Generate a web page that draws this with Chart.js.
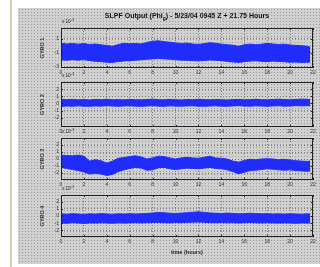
<!DOCTYPE html>
<html><head><meta charset="utf-8">
<script src="https://cdn.jsdelivr.net/npm/chart.js@4/dist/chart.umd.min.js"></script>
<style>
html,body{margin:0;padding:0;background:#fff;width:320px;height:267px;overflow:hidden;position:relative}
#stripe{position:absolute;left:10px;top:0;width:1.5px;height:267px;background:#d9d0b4}
#panel{position:absolute;left:18px;top:8px;width:302px;height:256px;background-color:#d0d0d0;
 background-image:radial-gradient(circle,#9c9c9c 0.6px,transparent 0.8px);
 background-size:3px 3px}
canvas{position:absolute;left:20px}
</style></head><body>
<div id="stripe"></div><div id="panel"></div>
<canvas id="c1" width="298" height="70" style="top:8px"></canvas>
<canvas id="c2" width="298" height="65" style="top:72px"></canvas>
<canvas id="c3" width="298" height="62" style="top:128px"></canvas>
<canvas id="c4" width="298" height="74" style="top:185px"></canvas>
<script>
// ---- data (envelope of the noisy signal) ----
const hours = [0,0.5,1,1.5,2,2.5,3,3.5,4,4.5,5,5.5,6,6.5,7,7.5,8,8.5,9,9.5,10,10.5,11,11.5,12,12.5,13,13.5,14,14.5,15,15.5,16,16.5,17,17.5,18,18.5,19,19.5,20,20.5,21,21.5,21.75];
const gyro1Upper = [0.35,0.22,0.3,0.2,0.28,0.15,0.22,0.1,0.0,-0.1,0.15,0.32,0.25,0.3,0.22,0.45,0.6,0.68,0.55,0.48,0.38,0.3,0.35,0.22,0.15,0.28,0.4,0.32,0.2,0.12,0.05,-0.1,0.1,0.2,0.12,0.18,0.32,0.22,0.15,0.2,0.08,0.02,-0.02,-0.1,-0.2];
const gyro1Lower = [-2.05,-2.1,-2.02,-2.08,-2.0,-2.15,-2.25,-2.3,-2.38,-2.4,-2.28,-2.2,-2.15,-2.1,-2.02,-1.95,-1.9,-1.85,-1.9,-1.95,-2.02,-2.08,-2.1,-2.15,-2.18,-2.12,-2.05,-2.1,-2.15,-2.25,-2.35,-2.4,-2.3,-2.22,-2.18,-2.25,-2.3,-2.22,-2.26,-2.32,-2.38,-2.35,-2.4,-2.37,-2.35];
const gyro2Upper = [0.6,0.52,0.56,0.5,0.54,0.48,0.55,0.51,0.57,0.5,0.53,0.49,0.56,0.52,0.5,0.55,0.6,0.53,0.5,0.56,0.52,0.48,0.54,0.51,0.57,0.53,0.5,0.55,0.52,0.48,0.54,0.56,0.51,0.53,0.58,0.52,0.5,0.55,0.6,0.54,0.51,0.56,0.6,0.58,0.55];
const gyro2Lower = [-0.43,-0.36,-0.4,-0.34,-0.38,-0.41,-0.35,-0.38,-0.32,-0.37,-0.4,-0.35,-0.33,-0.38,-0.41,-0.36,-0.32,-0.38,-0.4,-0.34,-0.37,-0.39,-0.35,-0.33,-0.38,-0.41,-0.36,-0.34,-0.38,-0.4,-0.35,-0.32,-0.37,-0.39,-0.34,-0.36,-0.4,-0.35,-0.33,-0.38,-0.36,-0.31,-0.34,-0.32,-0.33];
const gyro3Upper = [0.55,0.5,0.45,0.55,0.4,-0.3,-0.1,-0.25,-0.6,-0.3,0.1,0.2,0.35,0.45,0.3,0.0,0.15,0.4,0.35,0.15,0.0,0.15,0.25,0.15,0.1,0.25,0.4,0.15,0.1,0.0,-0.3,-0.45,-0.2,-0.05,-0.1,0.0,0.05,0.0,-0.1,-0.05,-0.15,-0.25,-0.3,-0.35,-0.3];
const gyro3Lower = [-1.2,-1.35,-1.5,-1.65,-1.85,-2.15,-2.05,-2.15,-2.35,-2.2,-1.8,-1.55,-1.35,-1.2,-1.3,-1.6,-1.55,-1.25,-1.2,-1.4,-1.5,-1.4,-1.3,-1.35,-1.4,-1.3,-1.2,-1.35,-1.4,-1.55,-1.8,-2.1,-1.9,-1.65,-1.6,-1.5,-1.4,-1.45,-1.55,-1.6,-1.55,-1.65,-1.7,-1.75,-1.7];
const gyro4Upper = [0.3,0.25,0.32,0.28,0.22,0.3,0.26,0.33,0.28,0.24,0.3,0.27,0.32,0.28,0.3,0.35,0.42,0.48,0.45,0.38,0.35,0.4,0.45,0.52,0.58,0.5,0.42,0.38,0.35,0.4,0.36,0.3,0.33,0.38,0.34,0.3,0.32,0.28,0.3,0.26,0.3,0.28,0.25,0.3,0.27];
const gyro4Lower = [-0.95,-1.0,-0.92,-0.97,-1.02,-0.95,-0.98,-0.93,-0.97,-1.0,-0.94,-0.98,-0.95,-0.92,-0.96,-0.93,-0.9,-0.88,-0.92,-0.95,-0.9,-0.93,-0.88,-0.85,-0.82,-0.87,-0.9,-0.93,-0.9,-0.94,-0.92,-0.96,-0.93,-0.9,-0.94,-0.97,-0.93,-0.96,-0.98,-0.95,-0.97,-1.0,-0.96,-0.98,-0.95];
const yTicks1 = [-3,-2,-1,0,1,2];
const yTicks2 = [-2,-1,0,1,2];
const yTicks3 = [-2,-1,0,1,2];
const yTicks4 = [-2,-1,0,1,2];
const gyroNames = ['GYRO 1','GYRO 2','GYRO 3','GYRO 4'];
const titlePre = 'SLPF Output (Phi', titleSub = 'g', titlePost = ') - 5/23/04 0945 Z + 21.75 Hours';
const expBase = 'x 10', expPow = '-3';
const xLabel = 'time (hours)';

// ---- drawing ----
const FONT = "'Liberation Sans', Arial, sans-serif";
const BLUE = 'rgb(32,44,250)';
function pts(vals){ return hours.map((h,i)=>({x:h,y:vals[i]})); }

const framePlugin = {id:'frame', afterDatasetsDraw(chart){
  const {ctx, chartArea:a, scales:{x,y}} = chart;
  ctx.save();
  ctx.strokeStyle = '#222'; ctx.lineWidth = 1;
  ctx.strokeRect(Math.round(a.left)+0.5, Math.round(a.top)+0.5, Math.round(a.right-a.left)-1, Math.round(a.bottom-a.top)-1);
  ctx.beginPath();
  x.ticks.forEach(t=>{const p=Math.round(x.getPixelForValue(t.value))+0.5; ctx.moveTo(p,a.bottom); ctx.lineTo(p,a.bottom-2); ctx.moveTo(p,a.top); ctx.lineTo(p,a.top+2);});
  y.ticks.forEach(t=>{const p=Math.round(y.getPixelForValue(t.value))+0.5; ctx.moveTo(a.left,p); ctx.lineTo(a.left+2,p); ctx.moveTo(a.right,p); ctx.lineTo(a.right-2,p);});
  ctx.stroke();
  ctx.restore();
}};

function textPlugin(extra){ return {id:'txt', afterDraw(chart){
  const {ctx, chartArea:a} = chart;
  ctx.save();
  ctx.fillStyle = '#222';
  ctx.textBaseline = 'alphabetic'; ctx.textAlign = 'left';
  ctx.font = '4.5px ' + FONT;
  ctx.fillText(expBase, a.left+1, a.top-5);
  const w = ctx.measureText(expBase).width;
  ctx.font = '3.5px ' + FONT;
  ctx.fillText(expPow, a.left+1+w+0.5, a.top-7.5);
  const cx = (a.left+a.right)/2;
  if (extra.title) {
    ctx.fillStyle = '#111';
    ctx.font = 'bold 7px ' + FONT;
    const w1 = ctx.measureText(titlePre).width;
    const w3 = ctx.measureText(titlePost).width;
    ctx.font = 'bold 5px ' + FONT;
    const w2 = ctx.measureText(titleSub).width;
    let x0 = cx - (w1+w2+w3)/2;
    const yb = 10;
    ctx.font = 'bold 7px ' + FONT; ctx.fillText(titlePre, x0, yb);
    ctx.font = 'bold 5px ' + FONT; ctx.fillText(titleSub, x0+w1, yb+1.5);
    ctx.font = 'bold 7px ' + FONT; ctx.fillText(titlePost, x0+w1+w2, yb);
  }
  if (extra.xlabel) {
    ctx.fillStyle = '#222';
    ctx.font = 'bold 5.5px ' + FONT; ctx.textAlign = 'center'; ctx.textBaseline = 'middle';
    ctx.fillText(xLabel, cx, extra.xlabelY);
  }
  ctx.restore();
}}; }

function makeChart(id, upper, lower, yMin, yMax, yTicks, yTitle, padTop, padBottom, extra){
  return new Chart(document.getElementById(id), {
    type:'line',
    data:{datasets:[
      {data:pts(upper), borderColor:BLUE, backgroundColor:BLUE, borderWidth:1, pointRadius:0, fill:'+1', tension:0},
      {data:pts(lower), borderColor:BLUE, backgroundColor:BLUE, borderWidth:1, pointRadius:0, fill:false, tension:0}
    ]},
    options:{
      responsive:false, animation:false, devicePixelRatio:1,
      layout:{padding:{top:padTop,right:5,bottom:padBottom,left:0}, autoPadding:false},
      plugins:{legend:{display:false}, tooltip:{enabled:false}, title:{display:false}},
      scales:{
        x:{type:'linear', min:0, max:22,
           ticks:{stepSize:2, font:{size:5,family:FONT}, color:'#333', padding:2, maxRotation:0, autoSkip:false},
           grid:{color:'#666', lineWidth:0.8, drawTicks:false}, border:{display:false, dash:[1,2]},
           afterFit(s){ s.height = 10; }},
        y:{type:'linear', min:yMin, max:yMax,
           afterBuildTicks(s){ s.ticks = yTicks.map(v=>({value:v})); },
           ticks:{font:{size:5,family:FONT}, color:'#333', padding:2},
           grid:{color:'#666', lineWidth:0.8, drawTicks:false}, border:{display:false, dash:[1,2]},
           title:{display:true, text:yTitle, font:{size:5.5,family:FONT,weight:'bold'}, color:'#333', padding:{top:18.7,bottom:0}},
           afterFit(s){ s.width = 41; }}
      }
    },
    plugins:[framePlugin, textPlugin(extra)]
  });
}

makeChart('c1', gyro1Upper, gyro1Lower, -3.2, 2.5, yTicks1, gyroNames[0], 20, 0, {title:true});
makeChart('c2', gyro2Upper, gyro2Lower, -3.3, 3, yTicks2, gyroNames[1], 10, 0, {});
makeChart('c3', gyro3Upper, gyro3Lower, -3, 3, yTicks3, gyroNames[2], 10, 0, {});
makeChart('c4', gyro4Upper, gyro4Lower, -2.9, 2.9, yTicks4, gyroNames[3], 10, 12, {xlabel:true, xlabelY:67.7});
</script>
</body></html>
